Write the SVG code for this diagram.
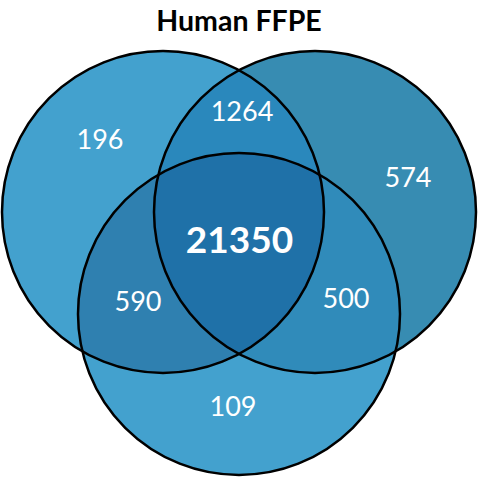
<svg xmlns="http://www.w3.org/2000/svg" width="478" height="478" viewBox="0 0 478 478">
<style>
.lbl{font-family:Lato,"Liberation Sans",sans-serif;font-size:27px;fill:#fff;text-anchor:middle}
.big{font-size:37px;font-weight:bold}
.ring{fill:none;stroke:#000;stroke-width:2.5}
</style>
<defs>
<clipPath id="cA"><circle cx="163" cy="212" r="161"/></clipPath>
<clipPath id="cB"><circle cx="315" cy="212" r="161"/></clipPath>
<clipPath id="cC"><circle cx="239" cy="314" r="161"/></clipPath>
</defs>
<rect width="478" height="478" fill="#fff"/>
<text x="239" y="31" font-family="Lato,'Liberation Sans',sans-serif" font-size="28.5" font-weight="bold" text-anchor="middle" fill="#000">Human FFPE</text>
<g id="setA"><circle cx="163" cy="212" r="161" fill="#43A1CE"/></g>
<g id="setB"><circle cx="315" cy="212" r="161" fill="#378CB2"/></g>
<g id="setC"><circle cx="239" cy="314" r="161" fill="#43A1CE"/></g>
<g id="AB" clip-path="url(#cA)"><circle cx="315" cy="212" r="161" fill="#2A88BC"/></g>
<g id="AC" clip-path="url(#cA)"><circle cx="239" cy="314" r="161" fill="#2F80B0"/></g>
<g id="BC" clip-path="url(#cB)"><circle cx="239" cy="314" r="161" fill="#308BBA"/></g>
<g id="ABC" clip-path="url(#cA)"><g clip-path="url(#cB)"><circle cx="239" cy="314" r="161" fill="#1F71A8"/></g></g>
<g id="outlines">
<circle class="ring" cx="163" cy="212" r="161"/>
<circle class="ring" cx="315" cy="212" r="161"/>
<circle class="ring" cx="239" cy="314" r="161"/>
</g>
<g id="labels">
<text class="lbl" x="100" y="149">196</text>
<text class="lbl" x="242" y="121">1264</text>
<text class="lbl" x="408" y="187">574</text>
<text class="lbl big" x="239.5" y="253">21350</text>
<text class="lbl" x="138" y="311">590</text>
<text class="lbl" x="346" y="308">500</text>
<text class="lbl" x="233" y="416">109</text>
</g>
</svg>
